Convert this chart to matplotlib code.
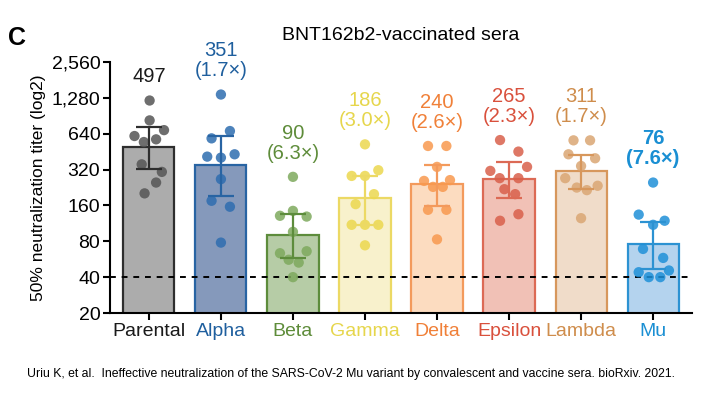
import matplotlib
matplotlib.use("Agg")
import matplotlib.pyplot as plt
import numpy as np

plt.rcParams['font.family'] = ['Liberation Sans', 'DejaVu Sans']

# Data
variants = ["Parental", "Alpha", "Beta", "Gamma", "Delta", "Epsilon", "Lambda", "Mu"]
gmt = [497, 351, 90, 186, 240, 265, 311, 76]
fold = [None, "1.7", "6.3", "3.0", "2.6", "2.3", "1.7", "7.6"]
err_hi = [727, 612, 135, 283, 350, 371, 425, 117]
err_lo = [322, 193, 58, 110, 158, 184, 219, 47]

parental = [1216, 828, 686, 612, 574, 545, 354, 306, 249, 202]
alpha = [1365, 674, 585, 411, 403, 430, 266, 175, 156, 78]
beta = [278, 144, 131, 129, 96, 63.5, 66, 56, 53, 40]
gamma = [521, 316, 283, 283, 199, 164, 110, 110, 110, 74]
delta = [505, 505, 337, 257, 261, 229, 229, 147, 147, 83]
epsilon = [566, 453, 337, 312, 271, 271, 219, 199, 135, 119]
lambda_ = [563, 563, 430, 398, 343, 271, 234, 226, 215, 125]
mu = [249, 134, 119, 110, 69, 58, 44, 45.5, 40, 40]
titers = [parental, alpha, beta, gamma, delta, epsilon, lambda_, mu]

# horizontal scatter of the dots (layout only)
jitter = [
    [0.01, 0.01, 0.21, -0.20, 0.10, -0.07, -0.10, 0.18, 0.10, -0.06],
    [0.0, 0.125, -0.13, -0.19, 0.0, 0.19, 0.0, -0.13, 0.125, 0.0],
    [0.0, 0.0, -0.18, 0.19, 0.0, -0.18, 0.19, -0.06, 0.08, 0.0],
    [0.0, 0.185, -0.185, 0.0, 0.125, -0.13, -0.185, 0.0, 0.185, 0.0],
    [-0.125, 0.13, 0.0, -0.18, 0.18, -0.055, 0.08, -0.125, 0.13, 0.0],
    [-0.125, 0.13, 0.25, -0.26, -0.13, 0.13, -0.065, 0.085, 0.13, -0.125],
    [-0.105, 0.125, -0.175, 0.195, 0.0, -0.22, 0.23, -0.06, 0.08, 0.0],
    [0.0, -0.2, 0.16, 0.0, -0.14, 0.14, -0.2, 0.22, -0.06, 0.1],
]

label_col = ['#1a1a1a', '#1f5f9e', '#5e8c3a', '#e6d64c', '#f08038', '#d9503c', '#cf8d4c', '#1a8fd3']
face_col = ['#acacac', '#8599bb', '#b6cca6', '#f8f1cc', '#fcdcc0', '#f1c1b6', '#f0dcc9', '#b4d3ee']
edge_col = ['#2e2e2e', '#2864a3', '#5d8c3c', '#ecd964', '#f39a5c', '#dc6a55', '#d7975c', '#2c92d2']
dot_col = ['#555555', '#2e6db0', '#7ea95d', '#ecd84f', '#f8994f', '#d9604b', '#daa673', '#1f90d8']

fig = plt.figure(figsize=(7.02, 3.96), dpi=100)
ax = fig.add_axes([110/702, 83/396, 582/702, 251/396])

x = np.arange(len(variants))
ax.bar(x, gmt, width=0.71, color=face_col, edgecolor=edge_col, linewidth=1.6, zorder=1)

ax.axhline(40, color='black', linestyle=(0, (3, 3)), linewidth=1.4, zorder=2)

for i in range(len(variants)):
    xs = [i + d for d in jitter[i]]
    ax.scatter(xs, titers[i], s=55, color=dot_col[i], alpha=0.85, edgecolors='none', zorder=3)
    yerr = [[gmt[i] - err_lo[i]], [err_hi[i] - gmt[i]]]
    ax.errorbar(i, gmt[i], yerr=yerr, color=edge_col[i], linewidth=1.6,
                capsize=9.5, capthick=1.6, zorder=4)

    top = max(titers[i])
    weight = 'bold' if variants[i] == "Mu" else 'normal'
    if fold[i] is None:
        ax.annotate(str(gmt[i]), xy=(i, top), xytext=(0, 17), textcoords='offset points',
                    ha='center', va='center', fontsize=14.5, color=label_col[i], fontweight=weight)
    else:
        ax.annotate("(%s\u00d7)" % fold[i], xy=(i, top), xytext=(0, 17), textcoords='offset points',
                    ha='center', va='center', fontsize=14.5, color=label_col[i], fontweight=weight)
        ax.annotate(str(gmt[i]), xy=(i, top), xytext=(0, 31.5), textcoords='offset points',
                    ha='center', va='center', fontsize=14.5, color=label_col[i], fontweight=weight)

ax.set_yscale('log', base=2)
yticks = [20, 40, 80, 160, 320, 640, 1280, 2560]
ax.set_yticks(yticks)
ax.set_yticklabels(["{:,}".format(v) for v in yticks])
ax.minorticks_off()
ax.set_ylim(20, 2560)
ax.set_xlim(-0.54, 7.54)
ax.set_xticks(x)
ax.set_xticklabels(variants)
for lab, c in zip(ax.get_xticklabels(), label_col):
    lab.set_color(c)

ax.tick_params(axis='both', labelsize=14, width=1.5, length=5, direction='out', pad=2)
for s in ['top', 'right']:
    ax.spines[s].set_visible(False)
for s in ['left', 'bottom']:
    ax.spines[s].set_linewidth(1.5)

ax.set_ylabel("50% neutralization titer (log2)", fontsize=12.5, labelpad=4)

fig.text(401/702, 1 - 36/396, "BNT162b2-vaccinated sera", ha='center', va='center', fontsize=14)
fig.text(8/702, 1 - 38/396, "C", ha='left', va='center', fontsize=18, fontweight='bold')
fig.text(351/702, 1 - 374/396,
         "Uriu K, et al.  Ineffective neutralization of the SARS-CoV-2 Mu variant by convalescent and vaccine sera. bioRxiv. 2021.",
         ha='center', va='center', fontsize=8.8)

fig.savefig("out.png", dpi=100)
